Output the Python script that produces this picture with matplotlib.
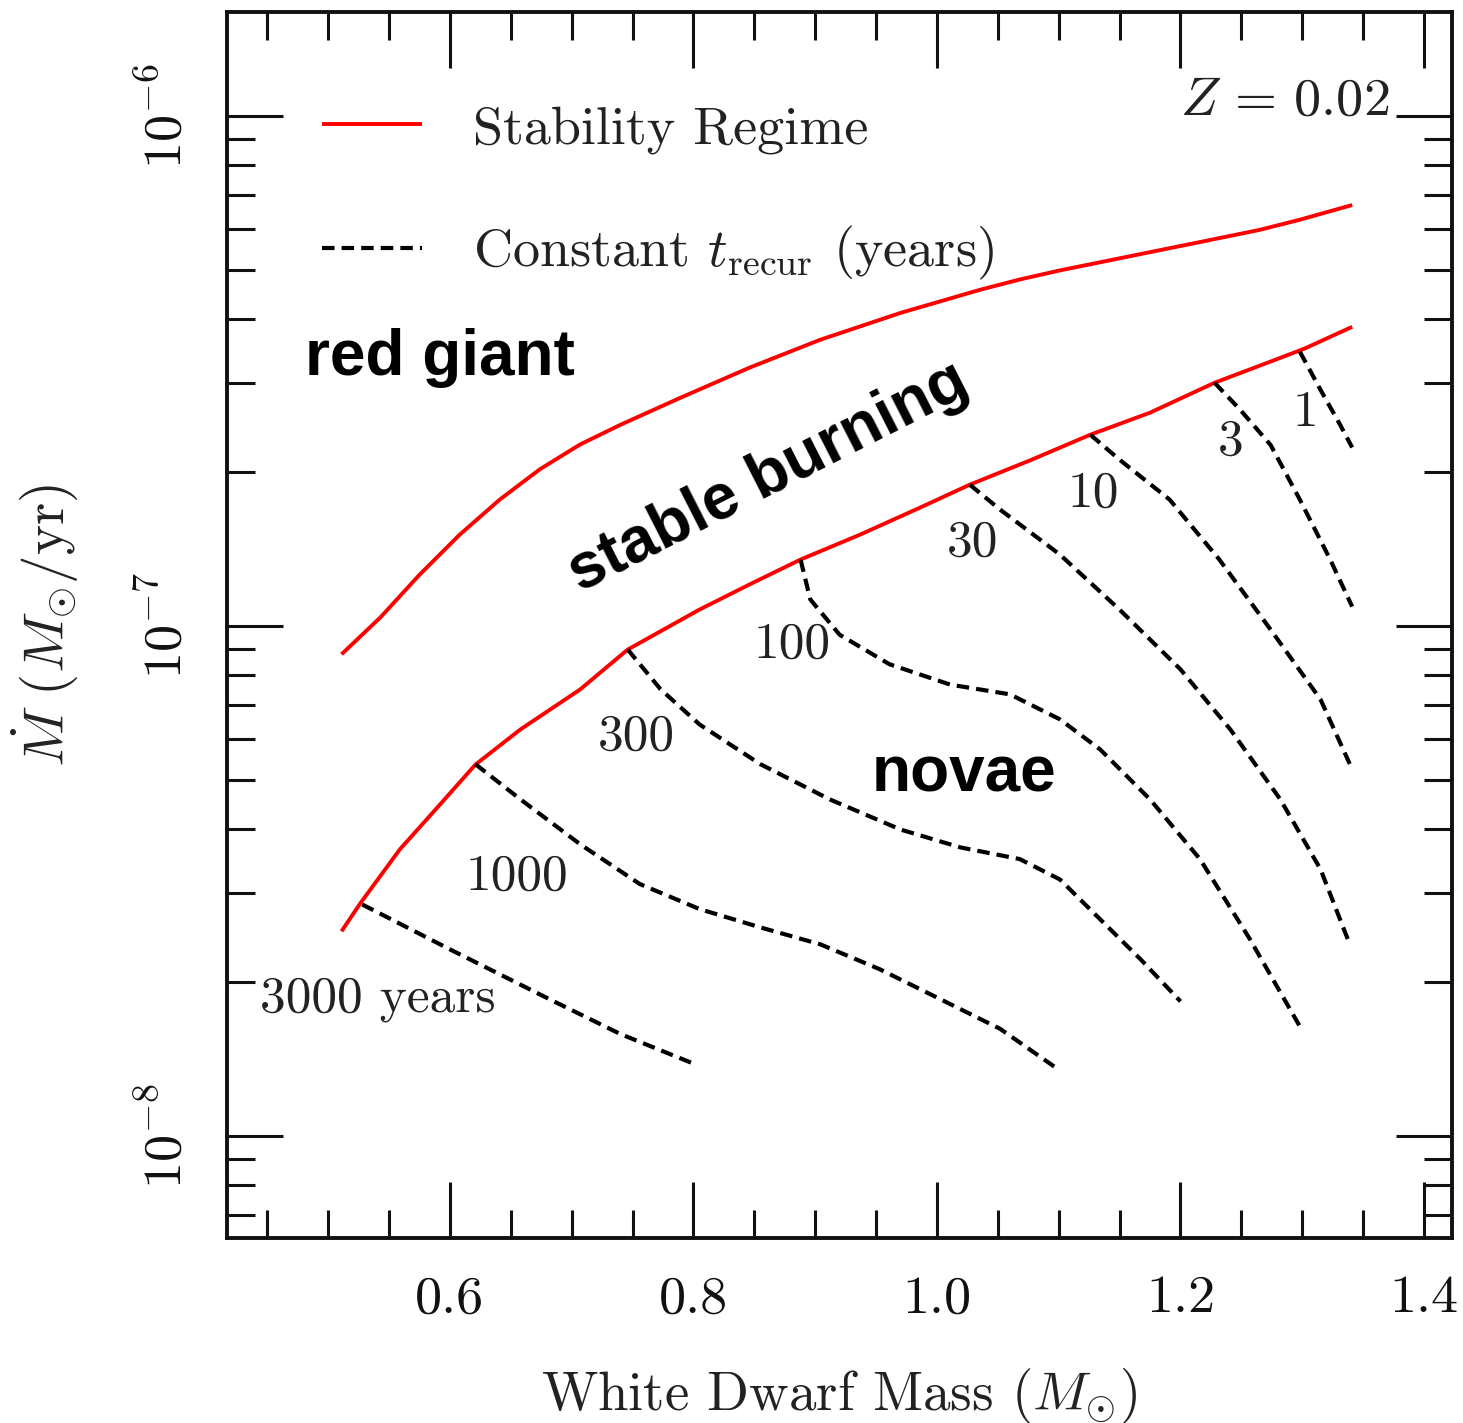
import matplotlib
matplotlib.use("Agg")
import matplotlib.pyplot as plt
import numpy as np
from matplotlib.ticker import MultipleLocator, LogLocator, NullFormatter

plt.rcParams['font.family'] = 'serif'
plt.rcParams['font.serif'] = ['cmr10']
plt.rcParams['mathtext.fontset'] = 'cm'
plt.rcParams['axes.formatter.use_mathtext'] = True
plt.rcParams['axes.unicode_minus'] = False

# stability regime boundaries (WD mass in Msun, Mdot in Msun/yr)
m_upper = [0.511, 0.543, 0.575, 0.608, 0.641, 0.674, 0.707, 0.740, 0.789, 0.846,
           0.904, 0.970, 1.035, 1.068, 1.101, 1.167, 1.216, 1.265, 1.298, 1.341]
mdot_upper = [0.88, 1.04, 1.26, 1.51, 1.77, 2.03, 2.27, 2.48, 2.80, 3.21,
              3.64, 4.11, 4.56, 4.78, 4.98, 5.36, 5.66, 5.98, 6.26, 6.69]  # x 1e-7

m_lower = [0.511, 0.526, 0.559, 0.592, 0.621, 0.658, 0.707, 0.746, 0.805, 0.846, 0.888,
           0.937, 0.986, 1.027, 1.076, 1.126, 1.175, 1.228, 1.274, 1.302, 1.341]
mdot_lower = [0.252, 0.285, 0.365, 0.447, 0.535, 0.627, 0.751, 0.899, 1.077, 1.206, 1.350,
              1.511, 1.706, 1.893, 2.110, 2.372, 2.620, 2.999, 3.30, 3.50, 3.86]  # x 1e-7

# constant recurrence time curves: mass, log10(Mdot)
m_3000 = [0.528, 0.600, 0.682, 0.740, 0.801]
lg_3000 = [-7.546, -7.634, -7.732, -7.800, -7.859]
m_1000 = [0.621, 0.658, 0.707, 0.756, 0.805, 0.855, 0.904, 0.953, 1.003, 1.052, 1.097]
lg_1000 = [-7.271, -7.340, -7.428, -7.506, -7.555, -7.591, -7.624, -7.673, -7.732, -7.790, -7.865]
m_300 = [0.746, 0.773, 0.805, 0.855, 0.912, 0.970, 1.019, 1.068, 1.101, 1.134, 1.167, 1.200]
lg_300 = [-7.046, -7.124, -7.193, -7.271, -7.340, -7.399, -7.434, -7.457, -7.497, -7.575, -7.653, -7.736]
m_100 = [0.888, 0.896, 0.920, 0.961, 1.011, 1.060, 1.101, 1.134, 1.175, 1.216, 1.257, 1.298]
lg_100 = [-6.870, -6.948, -7.017, -7.075, -7.115, -7.134, -7.183, -7.242, -7.340, -7.457, -7.614, -7.785]
m_30 = [1.027, 1.052, 1.101, 1.150, 1.200, 1.241, 1.282, 1.315, 1.339]
lg_30 = [-6.723, -6.772, -6.860, -6.968, -7.085, -7.203, -7.340, -7.477, -7.624]
m_10 = [1.126, 1.150, 1.191, 1.232, 1.274, 1.315, 1.341]
lg_10 = [-6.625, -6.674, -6.752, -6.870, -7.007, -7.144, -7.281]
m_3 = [1.228, 1.249, 1.274, 1.298, 1.323, 1.341]
lg_3 = [-6.523, -6.576, -6.645, -6.752, -6.870, -6.962]
m_1 = [1.298, 1.315, 1.331, 1.341]
lg_1 = [-6.462, -6.537, -6.605, -6.650]

t_labels = ['3000 years', '1000', '300', '100', '30', '10', '3', '1']
t_label_m = [0.541, 0.655, 0.753, 0.881, 1.029, 1.128, 1.241, 1.303]
t_label_lg = [-7.732, -7.491, -7.217, -7.036, -6.836, -6.741, -6.639, -6.582]

fig = plt.figure(figsize=(14.63, 14.23), dpi=100)
ax = fig.add_axes([0.1552, 0.130, 0.8373, 0.8616])

red_kw = dict(color='#ff0000', lw=2.8, solid_capstyle='butt', solid_joinstyle='round')
ax.plot(m_upper, np.array(mdot_upper) * 1e-7, label='Stability Regime', **red_kw)
ax.plot(m_lower, np.array(mdot_lower) * 1e-7, **red_kw)

dash_kw = dict(color='black', lw=3.0, dashes=(3.0, 1.7))
curves = [(m_3000, lg_3000), (m_1000, lg_1000), (m_300, lg_300), (m_100, lg_100),
          (m_30, lg_30), (m_10, lg_10), (m_3, lg_3), (m_1, lg_1)]
for i, (m, lg) in enumerate(curves):
    ax.plot(m, 10 ** np.array(lg), label=r'Constant $t_{\rm recur}$ (years)' if i == 0 else None,
            **dash_kw)

for lab, xm, yl in zip(t_labels, t_label_m, t_label_lg):
    ax.text(xm, 10 ** yl, lab, fontsize=37, ha='center', va='center', color='#222222')

ax.set_yscale('log')
ax.set_xlim(0.417, 1.423)
ax.set_ylim(10 ** -8.2, 10 ** -5.796)

ax.xaxis.set_major_locator(MultipleLocator(0.2))
ax.xaxis.set_minor_locator(MultipleLocator(0.05))
ax.yaxis.set_major_locator(LogLocator(base=10))
ax.yaxis.set_minor_locator(LogLocator(base=10, subs=np.arange(2, 10)))
ax.yaxis.set_minor_formatter(NullFormatter())
ax.xaxis.set_major_formatter(plt.FuncFormatter(lambda v, p: '%.1f' % v))

ax.tick_params(which='both', direction='in', top=True, right=True, width=2.2, colors='#111111')
ax.tick_params(which='major', length=40)
ax.tick_params(which='minor', length=20)
ax.tick_params(axis='x', which='major', labelsize=39, pad=27)
ax.tick_params(axis='y', which='major', labelsize=39, pad=26, labelrotation=90)
for lbl in ax.get_yticklabels():
    lbl.set_va('center')
for s in ax.spines.values():
    s.set_linewidth(2.8)
    s.set_color('#111111')

ax.set_xlabel(r'White Dwarf Mass ($M_{\odot}$)', fontsize=39.5, labelpad=31, color='#222222')
ax.set_ylabel(r'$\dot{M}\ (M_{\odot}/{\rm yr})$', fontsize=41, labelpad=42, color='#222222')

ax.text(0.949, 0.916, r'$Z\,=\,0.02$', transform=ax.transAxes, fontsize=39,
        ha='right', va='baseline', color='#222222')

leg = ax.legend(loc='upper left', bbox_to_anchor=(0.0776, 0.924), frameon=False,
                fontsize=39, borderpad=0, borderaxespad=0, handlelength=1.85,
                handletextpad=0.93, labelspacing=1.3)
for t in leg.get_texts():
    t.set_color('#222222')

sans = ['Liberation Sans', 'DejaVu Sans']
ax.text(0.481, 10 ** -6.507, 'red giant', fontsize=46, fontweight='bold', family=sans,
        ha='left', va='baseline')
ax.text(0.946, 10 ** -7.324, 'novae', fontsize=46, fontweight='bold', family=sans,
        ha='left', va='baseline')
ax.text(0.707, 10 ** -6.935, 'stable burning', fontsize=46, fontweight='bold', family=sans,
        ha='left', va='baseline', rotation=27.0, rotation_mode='anchor')

fig.savefig('out.png', dpi=100)
